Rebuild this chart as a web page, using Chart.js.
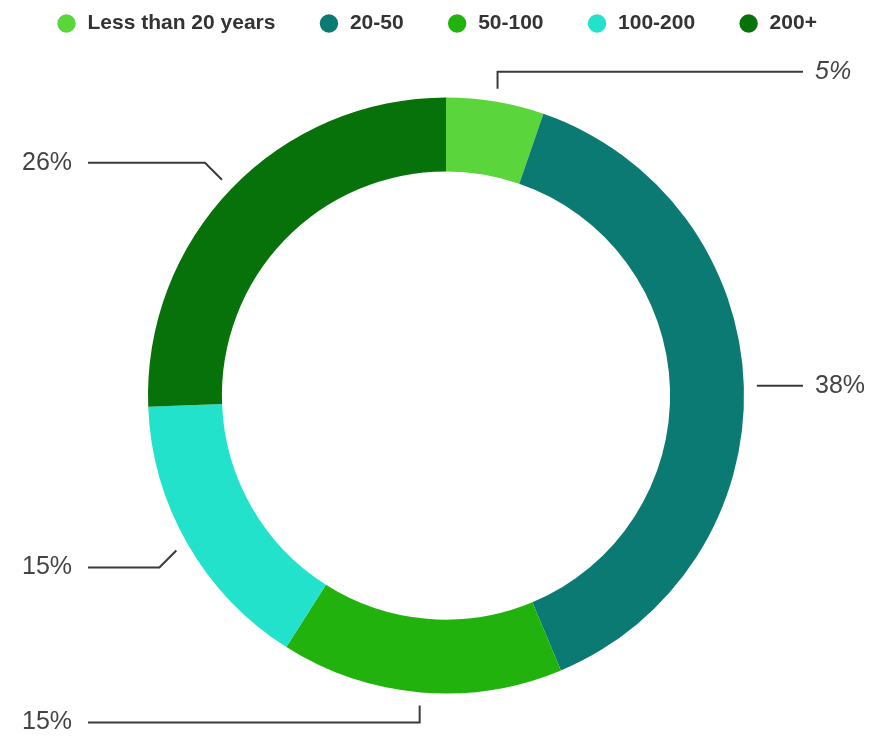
<!DOCTYPE html>
<html>
<head>
<meta charset="utf-8">
<script src="https://cdn.jsdelivr.net/npm/chart.js@4.4.1/dist/chart.umd.min.js"></script>
<style>
  html, body { margin: 0; padding: 0; background: #fff; }
  #wrap { width: 879px; height: 738px; }
</style>
</head>
<body>
<div id="wrap"><canvas id="ageChart"></canvas></div>
<script>
var ageGroups = ['Less than 20 years', '20-50', '50-100', '100-200', '200+'];
var shares = [5.3, 38.4, 15.3, 15.4, 25.6];
var sliceColors = ['#5ad63c', '#0b7a73', '#22b20e', '#23e2cc', '#08720a'];
var labelStyles = ['italic', 'normal', 'normal', 'normal', 'normal'];

// extra space under the legend
var legendGap = {
    id: 'legendGap',
    beforeInit: function(chart) {
        var fit = chart.legend.fit;
        chart.legend.fit = function() {
            fit.bind(chart.legend)();
            this.height += 9;
        };
    }
};

// percent labels with Google-style leader lines
var leaderLines = {
    id: 'leaderLines',
    afterDatasetsDraw: function(chart, args, opts) {
        var ctx = chart.ctx;
        var meta = chart.getDatasetMeta(0);
        var data = chart.data.datasets[0].data;
        var total = data.reduce(function(a, b) { return a + b; }, 0);
        var area = chart.chartArea;
        ctx.save();
        ctx.strokeStyle = opts.lineColor;
        ctx.lineWidth = opts.lineWidth;
        ctx.fillStyle = opts.textColor;
        ctx.textBaseline = 'middle';
        ctx.textAlign = 'left';
        meta.data.forEach(function(arc, i) {
            var p = arc.getProps(['x', 'y', 'startAngle', 'endAngle', 'outerRadius'], true);
            var mid = (p.startAngle + p.endAngle) / 2;
            var dx = Math.cos(mid), dy = Math.sin(mid);
            var r = p.outerRadius + opts.gap;
            var ax = p.x + dx * r, ay = p.y + dy * r;
            var side = dx >= 0 ? 1 : -1;
            var vert = dy < 0 ? -1 : 1;
            var kx = ax, ky = ay;
            if (Math.abs(dy) > 0.9) {
                ky = ay + vert * opts.knee;
            } else if (Math.abs(dy) > 0.2) {
                kx = ax + side * opts.knee;
                ky = ay + vert * opts.knee;
            }
            var endX = side > 0 ? area.right - opts.rightInset : area.left + opts.leftInset;
            ctx.beginPath();
            ctx.moveTo(ax, ay);
            ctx.lineTo(kx, ky);
            ctx.lineTo(endX, ky);
            ctx.stroke();

            var txt = Math.round(data[i] / total * 100) + '%';
            ctx.font = labelStyles[i] + ' ' + opts.fontSize + 'px "Liberation Sans", Arial, sans-serif';
            var tx = side > 0 ? endX + opts.textGap : area.left + opts.textInset;
            ctx.fillText(txt, tx, ky);
        });
        ctx.restore();
    }
};

var ctx = document.getElementById('ageChart').getContext('2d');
var ageChart = new Chart(ctx, {
    type: 'doughnut',
    data: {
        labels: ageGroups,
        datasets: [{
            data: shares,
            backgroundColor: sliceColors,
            borderWidth: 0,
            radius: 298,
            cutout: '75.2%'
        }]
    },
    options: {
        responsive: true,
        maintainAspectRatio: false,
        animation: false,
        layout: {
            padding: { top: -30, left: 13, right: 0, bottom: 0 }
        },
        plugins: {
            legend: {
                position: 'top',
                align: 'start',
                labels: {
                    usePointStyle: true,
                    pointStyle: 'circle',
                    boxWidth: 21,
                    boxHeight: 13,
                    padding: 43,
                    color: '#333',
                    font: { family: '"Liberation Sans", Arial, sans-serif', size: 21, weight: 'bold' }
                }
            },
            tooltip: { enabled: false },
            leaderLines: {
                lineColor: '#3a3a3a',
                lineWidth: 2,
                textColor: '#444',
                fontSize: 25,
                gap: 13,
                knee: 17,
                rightInset: 76,
                leftInset: 75,
                textInset: 9,
                textGap: 12
            }
        }
    },
    plugins: [legendGap, leaderLines]
});
</script>
</body>
</html>
